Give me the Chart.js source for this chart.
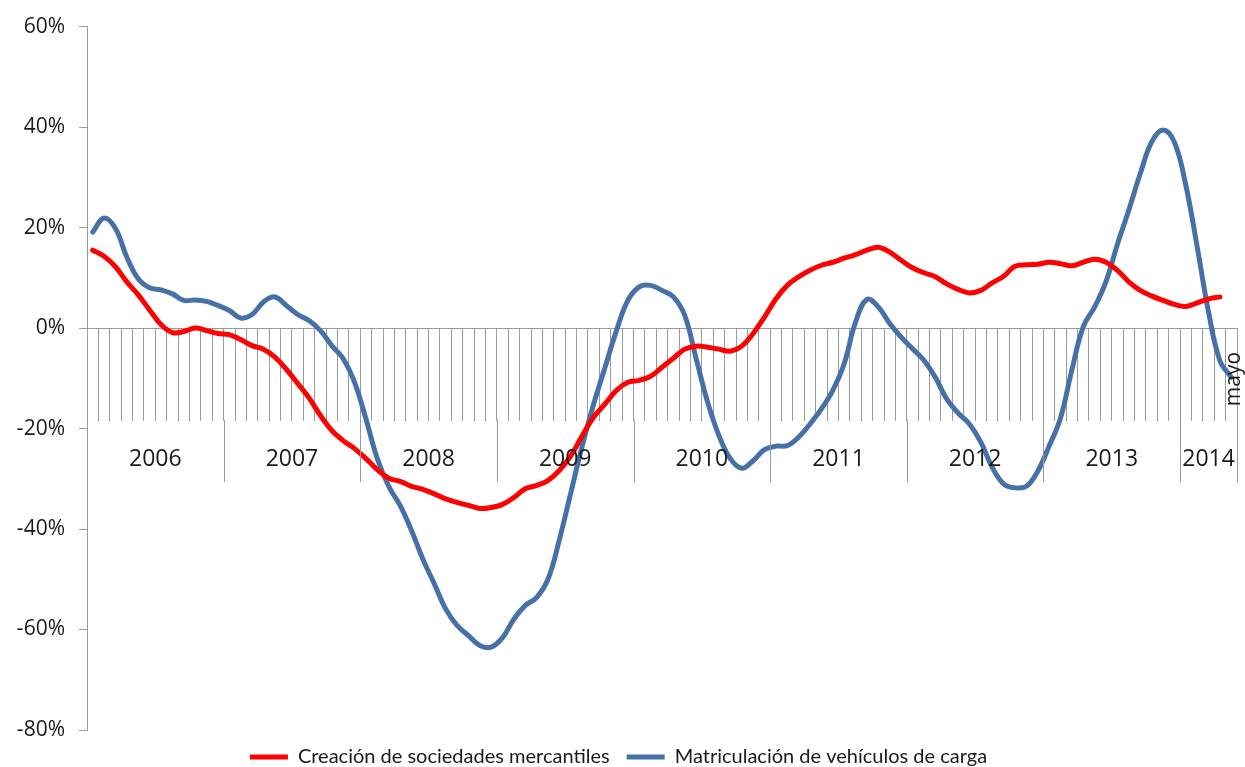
<!DOCTYPE html>
<html>
<head>
<meta charset="utf-8">
<script src="https://cdn.jsdelivr.net/npm/chart.js@4"></script>
<style>
  html, body { margin: 0; padding: 0; background: #fff; overflow: hidden; }
  #wrap { width: 1245px; height: 777px; position: relative; }
</style>
</head>
<body>
<div id="wrap"><canvas id="c"></canvas></div>
<script>
// years shown under the axis and how many months each one has
const anos = ['2006', '2007', '2008', '2009', '2010', '2011', '2012', '2013', '2014'];
const mesesPorAno = [12, 12, 12, 12, 12, 12, 12, 12, 5];
const meses = ['ene', 'feb', 'mar', 'abr', 'may', 'jun', 'jul', 'ago', 'sep', 'oct', 'nov', 'dic'];
const etiquetaFinal = 'mayo';

// y axis ticks
const yMin = -80;
const yMax = 60;
const yPaso = 20;

// % interanual, ene 2006 - may 2014
const creacion = [
  15.5, 14.3, 12.2, 9.2, 6.6, 3.6, 0.7, -0.9, -0.7, 0, -0.5, -1.1,
  -1.3, -2.3, -3.5, -4.2, -5.8, -8.2, -11.0, -13.9, -17.4, -20.4, -22.4, -24.0,
  -26.0, -28.2, -29.9, -30.5, -31.5, -32.1, -33.0, -34.0, -34.7, -35.3, -35.9, -35.7,
  -35.1, -33.7, -32.0, -31.3, -30.3, -28.3, -25.4, -21.4, -17.7, -15.1, -12.4, -10.8,
  -10.4, -9.6, -7.8, -6.0, -4.2, -3.6, -3.8, -4.2, -4.6, -3.6, -1.1, 2.2,
  5.8, 8.5, 10.2, 11.5, 12.5, 13.1, 13.9, 14.6, 15.5, 16.1, 15.1, 13.5,
  12.0, 11.0, 10.2, 8.8, 7.7, 7.0, 7.5, 9.0, 10.3, 12.3, 12.6, 12.7,
  13.1, 12.8, 12.4, 13.1, 13.7, 13.1, 11.5, 9.2, 7.5, 6.4, 5.5, 4.7,
  4.3, 5.0, 5.8, 6.2, null
];

const matriculacion = [
  19.1, 21.9, 19.8, 14.1, 9.8, 8.0, 7.6, 6.8, 5.5, 5.6, 5.3, 4.5,
  3.5, 2.0, 2.7, 5.2, 6.2, 4.5, 2.7, 1.5, -0.5, -3.5, -6.1, -10.8,
  -18.1, -26.0, -31.5, -35.3, -40.3, -46.0, -50.9, -55.9, -59.2, -61.2, -63.2, -63.5,
  -61.6, -57.9, -55.2, -53.6, -49.9, -42.0, -32.7, -23.4, -15.1, -7.8, -0.5, 5.5,
  8.2, 8.5, 7.5, 6.2, 2.5, -6.1, -14.7, -21.4, -26.0, -27.9, -26.4, -24.2,
  -23.5, -23.4, -21.7, -19.1, -16.1, -12.4, -7.1, 1.2, 5.7, 4.2, 0.9, -1.8,
  -4.1, -6.4, -9.8, -14.1, -16.9, -19.1, -22.7, -27.7, -31.0, -31.8, -31.5, -28.5,
  -23.5, -17.9, -8.3, 0.3, 4.2, 9.3, 16.7, 23.5, 30.7, 37.0, 39.4, 37.0,
  28.5, 16.2, 3.2, -6.5, -9.8
];

const categorias = [];
anos.forEach((a, i) => {
  for (let m = 0; m < mesesPorAno[i]; m++) categorias.push(meses[m] + ' ' + a);
});

const gris = '#9a9a9a';
const texto = '#1a1a1a';
const TICK_LEN = 92;
const SEP_LEN = 154;

// year separators, year labels and the final month label under the zero line
const etiquetasAnos = {
  id: 'etiquetasAnos',
  afterDraw(chart) {
    const x = chart.scales.x, y = chart.scales.y, ctx = chart.ctx;
    const y0 = Math.round(y.getPixelForValue(0));
    ctx.save();
    ctx.strokeStyle = gris;
    ctx.lineWidth = 1;
    let inicio = 0;
    anos.forEach((a, i) => {
      const fin = inicio + mesesPorAno[i];
      const xf = Math.round(x.getPixelForValue(fin - 0.5)) + 0.5;
      ctx.beginPath();
      ctx.moveTo(xf, y0 + TICK_LEN);
      ctx.lineTo(xf, y0 + SEP_LEN);
      ctx.stroke();
      const xc = (x.getPixelForValue(inicio - 0.5) + x.getPixelForValue(fin - 0.5)) / 2;
      ctx.fillStyle = texto;
      ctx.font = '23px "Open Sans"';
      ctx.textAlign = 'center';
      ctx.textBaseline = 'middle';
      ctx.fillText(a, xc, y0 + 131);
      inicio = fin;
    });
    const xl = x.getPixelForValue(categorias.length - 1) + 3;
    ctx.translate(xl, y0 + 51);
    ctx.rotate(-Math.PI / 2);
    ctx.font = '21px "Open Sans"';
    ctx.fillText(etiquetaFinal, 0, 0);
    ctx.restore();
  }
};

new Chart(document.getElementById('c'), {
  type: 'line',
  data: {
    labels: categorias,
    datasets: [
      {
        label: 'Creación de sociedades mercantiles',
        data: creacion,
        borderColor: '#ff0000',
        backgroundColor: '#ff0000',
        borderWidth: 5,
        borderCapStyle: 'round',
        pointRadius: 0,
        tension: 0.4
      },
      {
        label: 'Matriculación de vehículos de carga',
        data: matriculacion,
        borderColor: '#4571a8',
        backgroundColor: '#4571a8',
        borderWidth: 5,
        borderCapStyle: 'round',
        pointRadius: 0,
        tension: 0.4
      }
    ]
  },
  options: {
    responsive: true,
    maintainAspectRatio: false,
    animation: false,
    layout: { padding: { top: 25, right: 8, left: 0, bottom: 0 } },
    scales: {
      x: {
        type: 'category',
        position: { y: 0 },
        offset: true,
        grid: { offset: true, drawOnChartArea: false, drawTicks: true, tickLength: TICK_LEN, color: gris },
        border: { color: gris },
        ticks: { display: false }
      },
      y: {
        min: yMin,
        max: yMax,
        afterFit: (s) => { s.width = 87; },
        grid: { drawOnChartArea: false, tickLength: 8, color: gris },
        border: { color: gris },
        ticks: {
          stepSize: yPaso,
          padding: 14,
          color: texto,
          font: { family: 'Open Sans', size: 21 },
          callback: (v) => v + '%'
        }
      }
    },
    plugins: {
      legend: {
        position: 'bottom',
        labels: {
          usePointStyle: true,
          pointStyle: 'line',
          pointStyleWidth: 38,
          padding: 17,
          color: texto,
          font: { family: 'Lato', size: 20 }
        }
      },
      tooltip: { enabled: false }
    }
  },
  plugins: [etiquetasAnos]
});
</script>
</body>
</html>
